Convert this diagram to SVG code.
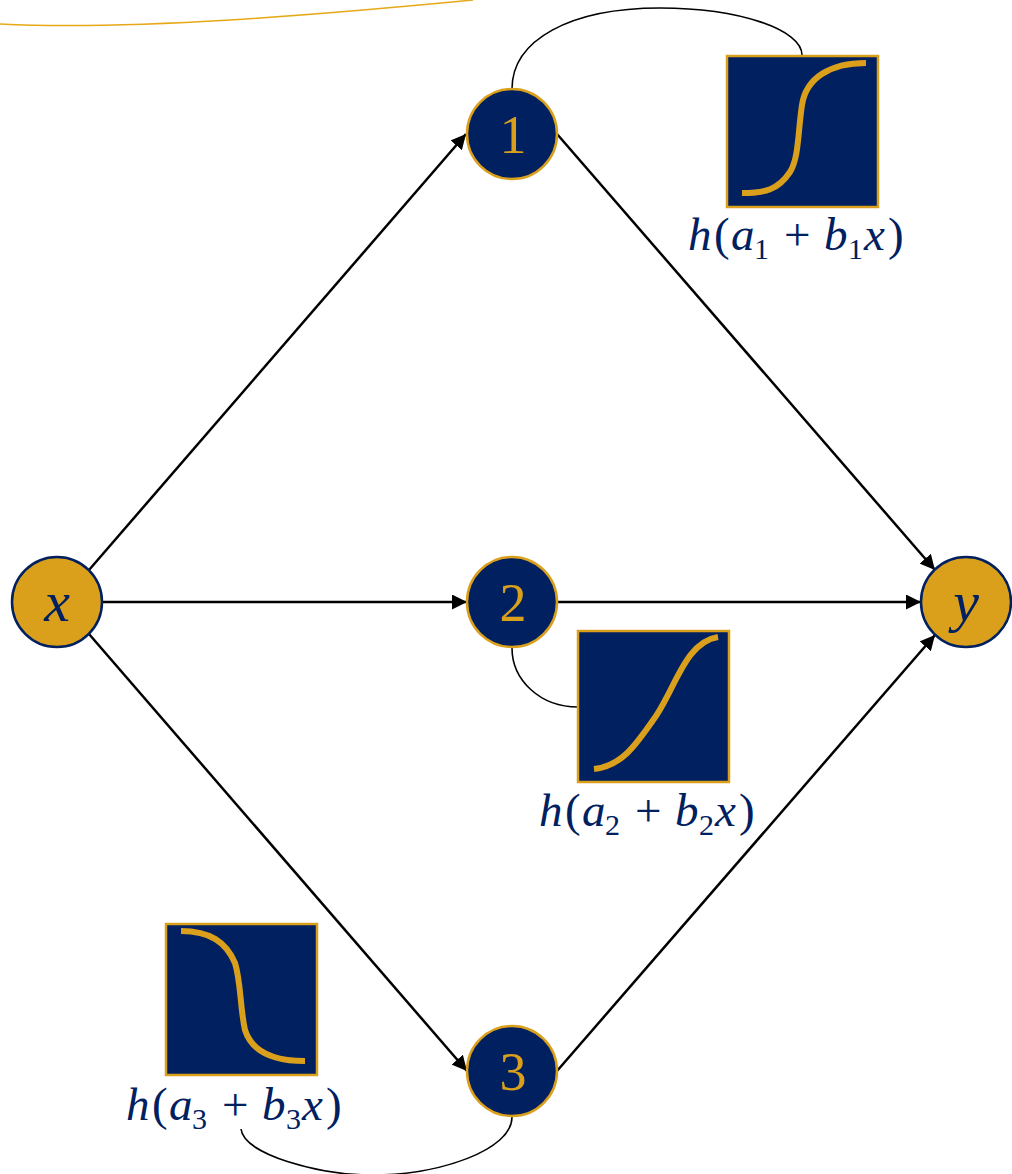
<svg xmlns="http://www.w3.org/2000/svg" width="1012" height="1174" viewBox="0 0 1012 1174">
<defs>
<marker id="arrow" markerUnits="userSpaceOnUse" markerWidth="16" markerHeight="15" refX="15" refY="7.5" orient="auto"><path d="M0 0L15 7.500L0 15Z" fill="#000"/></marker>
</defs>
<style>
.edge{fill:none;stroke:#000;stroke-width:2.5;marker-end:url(#arrow)}
.link{fill:none;stroke:#000;stroke-width:1.6}
.hid{fill:#002060;stroke:#DAA01C;stroke-width:2.5}
.io{fill:#DAA01C;stroke:#002060;stroke-width:2.5}
.box{fill:#002060;stroke:#DAA01C;stroke-width:2.5}
.curve{fill:none;stroke:#DAA01C;stroke-width:6}
.num{font-family:"Liberation Serif",serif;font-size:54px;fill:#DAA01C;text-anchor:middle}
.var{font-family:"Liberation Serif",serif;font-style:italic;font-size:58px;fill:#002060;text-anchor:middle}
.lab{font-family:"Liberation Serif",serif;font-style:italic;font-size:47px;fill:#002060}
.sub{font-size:30px;font-style:normal}
.op{font-style:normal}
</style>
<path d="M0 24C60 27 130 26 230 20C310 15 400 7 473 0" fill="none" stroke="#E6A817" stroke-width="1.5"/>
<g id="connectors">
<path class="edge" d="M89 570L466 134"/>
<path class="edge" d="M103 602H467"/>
<path class="edge" d="M89 634L467 1071"/>
<path class="edge" d="M557 134L935 570"/>
<path class="edge" d="M557 602H921"/>
<path class="edge" d="M557 1071L935 635"/>
<path class="link" d="M512 89C512 40 570 8 660 8C740 8 802 30 802 55"/>
<path class="link" d="M512 648C512 680 540 707 578 707"/>
<path class="link" d="M241 1129C244 1155 320 1175 372 1175C440 1175 512 1150 512 1117"/>
</g>
<g id="node-x"><circle class="io" cx="57" cy="602" r="45"/><text class="var" x="57" y="621">x</text></g>
<g id="node-1"><circle class="hid" cx="512" cy="134" r="45"/><text class="num" x="513" y="153">1</text></g>
<g id="node-2"><circle class="hid" cx="512" cy="602" r="45"/><text class="num" x="513" y="621">2</text></g>
<g id="node-3"><circle class="hid" cx="512" cy="1071" r="45"/><text class="num" x="513" y="1090">3</text></g>
<g id="node-y"><circle class="io" cx="966" cy="602" r="45"/><text class="var" x="966" y="621">y</text></g>
<g id="activation-1">
<rect class="box" x="727" y="56" width="151" height="151"/>
<path class="curve" d="M742 193C765 193 778 190 790 172C799 158 798 130 802 105C806 78 830 63 866 63"/>
<text class="lab" y="250"><tspan x="688">h</tspan><tspan x="714" class="op">(</tspan><tspan x="731">a</tspan><tspan x="754" dy="9" class="sub">1</tspan><tspan x="784" dy="-9" class="op">+</tspan><tspan x="824">b</tspan><tspan x="848" dy="9" class="sub">1</tspan><tspan x="864" dy="-9">x</tspan><tspan x="888" class="op">)</tspan></text>
</g>
<g id="activation-2">
<rect class="box" x="578" y="631" width="151" height="151"/>
<path class="curve" d="M594 769C622 766 636 745 656 716C676 686 686 642 718 637"/>
<text class="lab" y="826"><tspan x="539">h</tspan><tspan x="565" class="op">(</tspan><tspan x="582">a</tspan><tspan x="605" dy="9" class="sub">2</tspan><tspan x="635" dy="-9" class="op">+</tspan><tspan x="675">b</tspan><tspan x="699" dy="9" class="sub">2</tspan><tspan x="715" dy="-9">x</tspan><tspan x="739" class="op">)</tspan></text>
</g>
<g id="activation-3">
<rect class="box" x="166" y="924" width="151" height="151"/>
<path class="curve" d="M181 931C210 931 226 942 235 963C241 982 240 1008 245 1030C252 1052 275 1061 305 1061"/>
<text class="lab" y="1120"><tspan x="126">h</tspan><tspan x="152" class="op">(</tspan><tspan x="169">a</tspan><tspan x="192" dy="9" class="sub">3</tspan><tspan x="222" dy="-9" class="op">+</tspan><tspan x="262">b</tspan><tspan x="286" dy="9" class="sub">3</tspan><tspan x="302" dy="-9">x</tspan><tspan x="326" class="op">)</tspan></text>
</g>
</svg>
